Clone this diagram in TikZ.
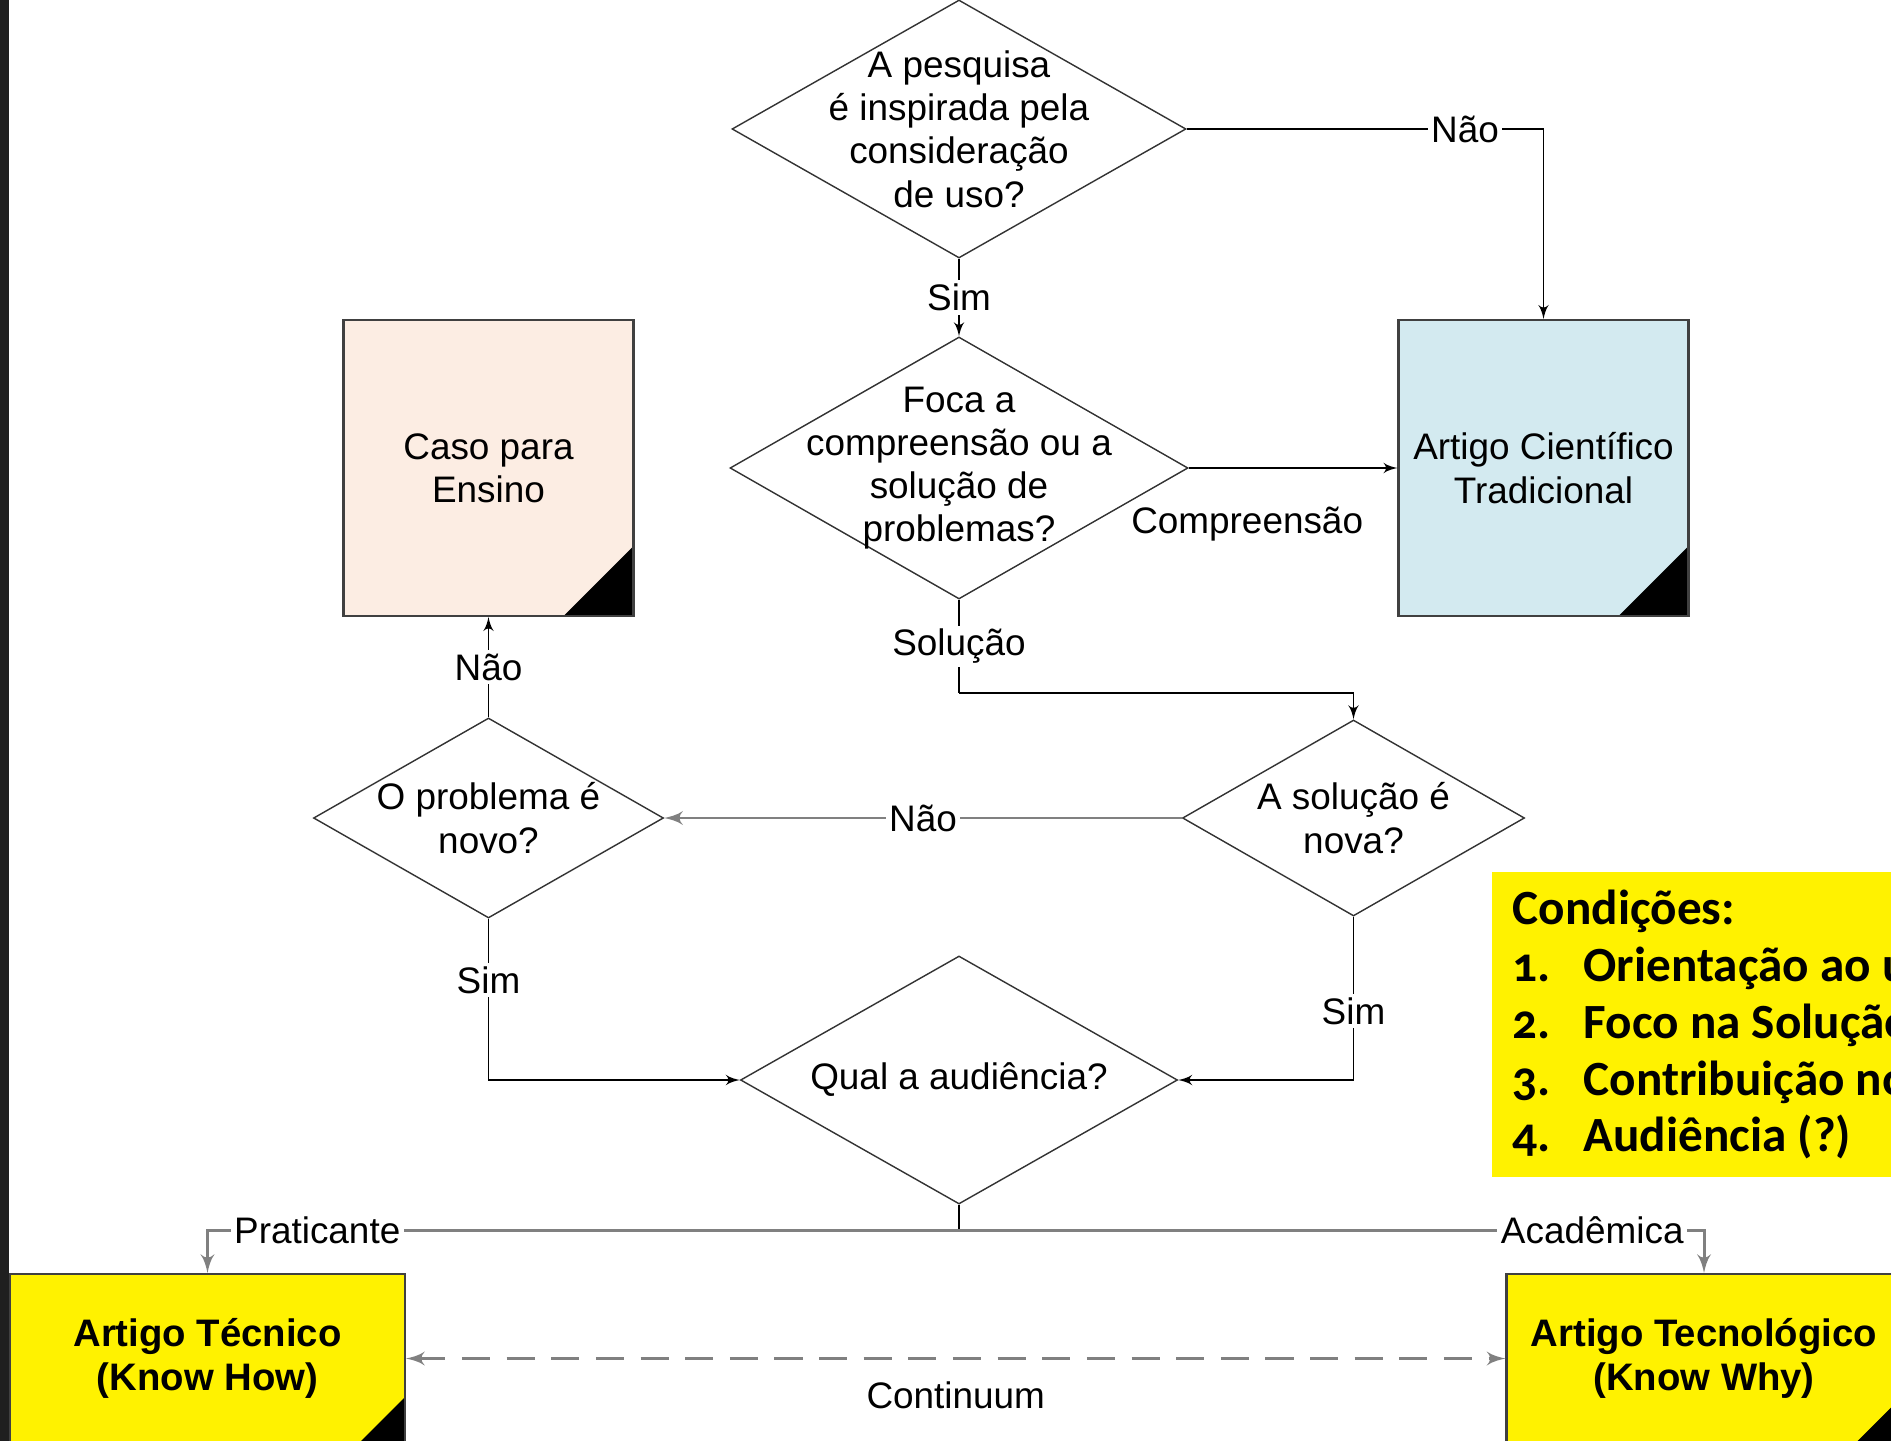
\documentclass[tikz,border=0pt]{standalone}
\usepackage{fontspec}
\setmainfont{Liberation Sans}
\newfontfamily\condfont[Numbers=OldStyle]{Carlito}
\usetikzlibrary{shapes,arrows,positioning}
\definecolor{peach}{RGB}{252,237,227}
\definecolor{paleblue}{RGB}{211,234,240}
\tikzset{
decision/.style = {draw=black!80, diamond, inner sep=0pt},
doc/.style = {draw=black!75, line width=0.6pt, rectangle, align=center, minimum width=2.9cm, minimum height=2.96cm},
dogear/.style = {path picture={\fill[black] (path picture bounding box.south east) -- ++(-#1,0) -- ++(#1,#1) -- cycle;}},
outbox/.style = {doc, fill=yellow, font=\bfseries\fontsize{10.9}{12.3}\selectfont, minimum width=3.95cm, minimum height=1.69cm},
condbox/.style = {fill=yellow, inner xsep=0.21cm, inner ysep=0.18cm, text width=5.5cm, align=left, font=\condfont\bfseries\fontsize{14}{16.2}\selectfont, execute at begin node={\spaceskip=0pt\xspaceskip=0pt\relax}},
tmp/.style = {coordinate},
lbl/.style = {fill=white, inner sep=1pt},
trunk/.style = {draw=black!50, line width=0.85pt}
}

\begin{document}
\begin{tikzpicture}[node distance=3cm, >=latex', font=\fontsize{10.5}{12.3}\selectfont]
\useasboundingbox (0,0) rectangle (18.91,-14.41);
\clip (0,0) rectangle (18.91,-14.41);
\fill[white] (0,0) rectangle (18.91,-14.41);
\fill[black!88] (0,0) rectangle (0.09,-14.41);

\node[decision, minimum width=4.54cm, minimum height=2.58cm, label={[align=center]center:A pesquisa\\é inspirada pela\\consideração\\de uso?}] (q1) at (9.59,-1.29) {};
\node[decision, below of=q1, node distance=3.39cm, minimum width=4.58cm, minimum height=2.62cm, label={[align=center]center:Foca a\\compreensão ou a\\solução de\\problemas?}] (q2) {};
\node[doc, fill=paleblue, dogear=0.7cm, right of=q2, node distance=5.845cm] (trad) {Artigo Científico\\Tradicional};
\node[doc, fill=peach, dogear=0.7cm, left of=q2, node distance=4.705cm] (ensino) {Caso para\\Ensino};
\node[tmp, below of=q2, node distance=2.25cm] (tmp1) {};
\node[decision, below of=ensino, node distance=3.5cm, minimum width=3.5cm, minimum height=2cm, label={[align=center]center:O problema é\\novo?}] (q4) {};
\node[decision, right of=q4, node distance=8.65cm, minimum width=3.42cm, minimum height=1.96cm, label={[align=center]center:A solução é\\nova?}] (q3) {};
\node[decision, below of=q2, node distance=6.12cm, minimum width=4.37cm, minimum height=2.48cm, label={center:Qual a audiência?}] (q5) {};
\node[tmp, below of=q5, node distance=1.5cm] (tmp2) {};
\node[outbox, dogear=0.46cm, below of=tmp2, node distance=1.285cm, xshift=-7.515cm] (tecnico) {Artigo Técnico\\(Know How)};
\node[outbox, dogear=0.46cm, right of=tecnico, node distance=14.965cm] (tecnologico) {Artigo Tecnológico\\(Know Why)};
\node[condbox, anchor=north west] (cond) at (14.91,-8.71) {Condições:\\
  \makebox[0.71cm][l]{1.}Orientação ao uso\\
  \makebox[0.71cm][l]{2.}Foco na Solução\\
  \makebox[0.71cm][l]{3.}Contribuição nova\\
  \makebox[0.71cm][l]{4.}Audiência (?)};

\draw[->] (q1) -| node[lbl, pos=0.39]{Não} (trad);
\draw[->] (q1) -- node[lbl]{Sim} (q2);
\draw[->] (q2) -- node[below=0.27cm, pos=0.28]{Compreensão} (trad);
\draw (q2) -- node[lbl]{Solução} (tmp1);
\draw[->] (tmp1) -| (q3);
\draw[->, trunk] (q3) -- node[lbl]{Não} (q4);
\draw[->] (q4) -- node[lbl]{Não} (ensino);
\draw[->] (q4) |- node[lbl, pos=0.19]{Sim} (q5);
\draw[->] (q3) |- node[lbl, pos=0.29]{Sim} (q5);
\draw (q5) -- (tmp2);
\draw[->, trunk] (tmp2) -| node[lbl, pos=0.427]{Praticante} (tecnico);
\draw[->, trunk] (tmp2) -| node[lbl, pos=0.425]{Acadêmica} (tecnologico);
\draw[<->, trunk, dash pattern=on 8pt off 4.7pt] (tecnico) -- node[below=1mm]{Continuum} (tecnologico);
\end{tikzpicture}
\end{document}
